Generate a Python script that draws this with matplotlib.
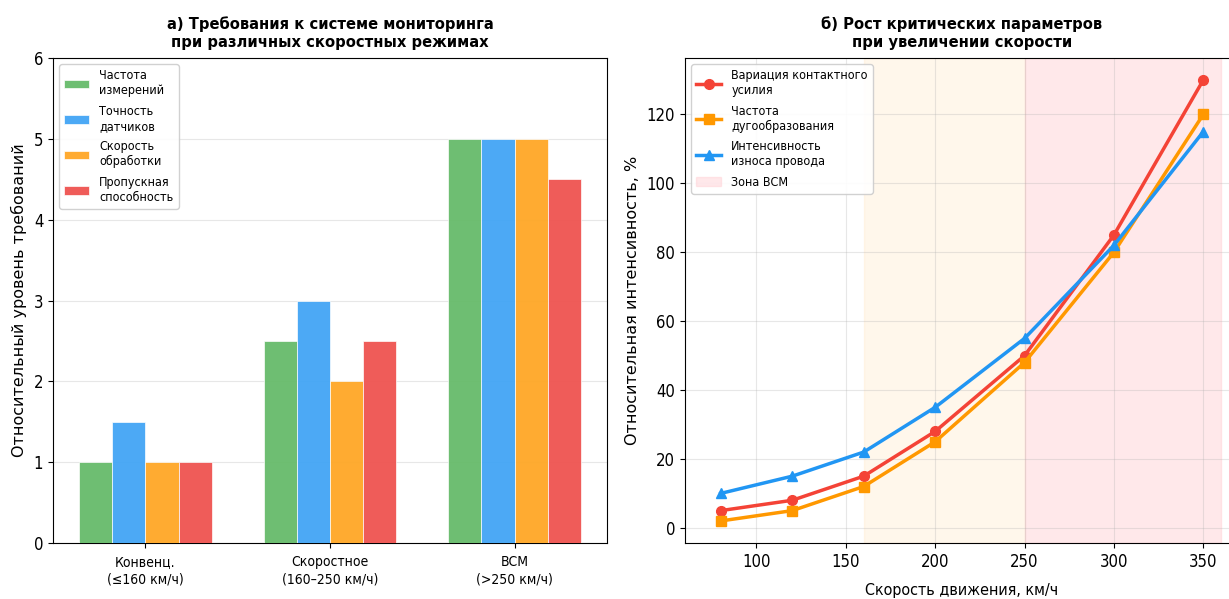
import matplotlib
matplotlib.use("Agg")
import matplotlib.pyplot as plt
import numpy as np

plt.rcParams['font.family'] = ['DejaVu Sans Condensed', 'DejaVu Sans']
plt.rcParams['font.stretch'] = 'condensed'

# ---- data: panel a ----
categories = ["Конвенц.\n(≤160 км/ч)", "Скоростное\n(160–250 км/ч)", "ВСМ\n(>250 км/ч)"]
bar_labels = ["Частота\nизмерений", "Точность\nдатчиков", "Скорость\nобработки", "Пропускная\nспособность"]
freq_meas = [1.0, 2.5, 5.0]
sensor_acc = [1.5, 3.0, 5.0]
proc_speed = [1.0, 2.0, 5.0]
throughput = [1.0, 2.5, 4.5]
bar_colors = ["#66BB6A", "#42A5F5", "#FFA726", "#EF5350"]

# ---- data: panel b ----
speeds = [80, 120, 160, 200, 250, 300, 350]
contact_force = [5, 8, 15, 28, 50, 85, 130]
arcing = [2, 5, 12, 25, 48, 80, 120]
wear = [10, 15, 22, 35, 55, 82, 115]
line_labels = ["Вариация контактного\nусилия", "Частота\nдугообразования", "Интенсивность\nизноса провода"]
line_colors = ["#F44336", "#FF9800", "#2196F3"]
line_markers = ["o", "s", "^"]

W, H = 1229, 599
fig = plt.figure(figsize=(W / 100, H / 100), dpi=100)

def pos(x0, x1, y0, y1):
    return [x0 / W, 1 - y1 / H, (x1 - x0) / W, (y1 - y0) / H]

ylabel_font = dict(family='DejaVu Sans', stretch='normal', fontsize=11.5)

# ---- panel a ----
ax1 = fig.add_axes(pos(53, 607, 58, 543))
x = np.arange(len(categories))
w = 0.18
series = [freq_meas, sensor_acc, proc_speed, throughput]
for i, (vals, lab, col) in enumerate(zip(series, bar_labels, bar_colors)):
    ax1.bar(x + (i - 1.5) * w, vals, w, label=lab, color=col, alpha=0.95,
            edgecolor="white", linewidth=0.5, zorder=3)
ax1.set_xticks(x)
ax1.set_xticklabels(categories, fontsize=10, linespacing=1.35)
ax1.tick_params(axis="x", pad=5)
ax1.set_xlim(-0.5, 2.5)
ax1.set_ylim(0, 6)
ax1.tick_params(axis="y", labelsize=12)
ax1.set_ylabel("Относительный уровень требований", labelpad=5, **ylabel_font)
ax1.set_title("а) Требования к системе мониторинга\nпри различных скоростных режимах",
              fontsize=11.8, fontweight="bold", pad=8)
ax1.grid(axis="y", alpha=0.3, zorder=0)
ax1.legend(loc="upper left", fontsize=9, framealpha=0.9, labelspacing=0.6)

# ---- panel b ----
ax2 = fig.add_axes(pos(685, 1239, 58, 543))
ax2.axvspan(160, 250, color="#FFE0B2", alpha=0.25, zorder=0)
zone = ax2.axvspan(250, 360, color="#FFCDD2", alpha=0.45, zorder=0, label="Зона ВСМ")
handles = []
for vals, lab, col, mk in zip([contact_force, arcing, wear], line_labels, line_colors, line_markers):
    ln, = ax2.plot(speeds, vals, marker=mk, color=col, linewidth=2.5, markersize=7, label=lab, zorder=3)
    handles.append(ln)
handles.append(zone)
ax2.set_xlim(60, 370)
ax2.set_xticks([100, 150, 200, 250, 300, 350])
ax2.tick_params(labelsize=12)
ax2.set_xlabel("Скорость движения, км/ч", fontsize=11.5, labelpad=9)
ax2.set_ylabel("Относительная интенсивность, %", labelpad=5, **ylabel_font)
ax2.set_title("б) Рост критических параметров\nпри увеличении скорости",
              fontsize=11.8, fontweight="bold", pad=8)
ax2.grid(alpha=0.3, zorder=1)
ax2.legend(handles=handles, loc="upper left", fontsize=9, framealpha=0.9, labelspacing=0.6)

fig.savefig("out.png", dpi=100)
